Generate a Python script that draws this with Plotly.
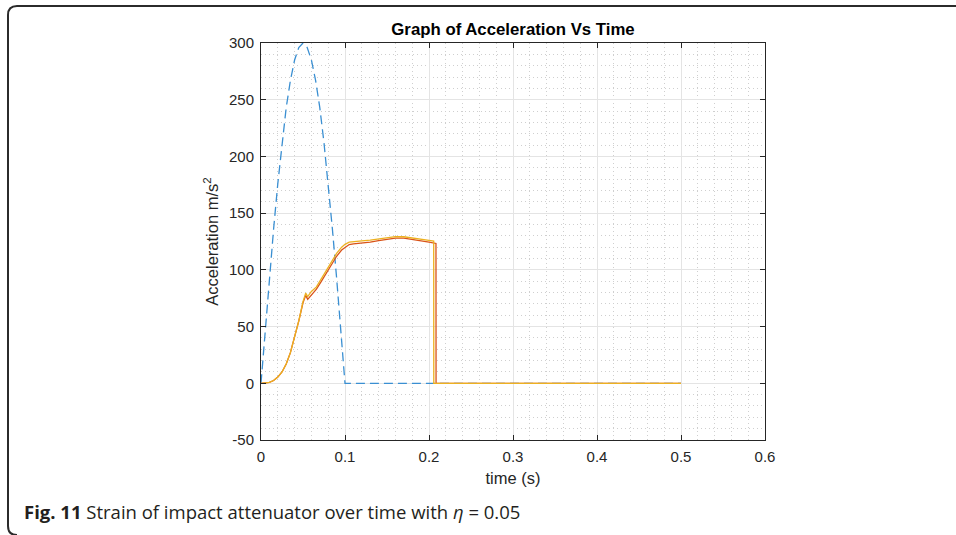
import plotly.graph_objects as go

# ---------------- data ----------------
t_input = [0, 0.005, 0.01, 0.015, 0.02, 0.025, 0.03, 0.035, 0.04, 0.045, 0.05,
           0.055, 0.06, 0.065, 0.07, 0.075, 0.08, 0.085, 0.09, 0.095, 0.1,
           0.2, 0.3, 0.4, 0.5]
a_input = [0, 47, 93, 136, 176, 212, 243, 267, 285, 296, 300,
           296, 285, 267, 243, 212, 176, 136, 93, 47, 0,
           0, 0, 0, 0]

t_resp1 = [0, 0.005, 0.01, 0.015, 0.02, 0.025, 0.03, 0.035, 0.04, 0.045, 0.05,
           0.0532, 0.0556, 0.06, 0.066, 0.072, 0.078, 0.084, 0.09, 0.096, 0.1,
           0.105, 0.11, 0.12, 0.13, 0.14, 0.15, 0.16, 0.17, 0.18, 0.19, 0.2,
           0.2083, 0.2084, 0.3, 0.4, 0.5]
a_resp1 = [0, 0.2, 0.8, 2.4, 5.5, 10, 17, 27, 40, 55, 71,
           77.5, 74, 78, 83, 90, 97.5, 105, 112, 117.5, 120,
           122.3, 123, 123.5, 124.5, 125.8, 127, 128, 128, 127, 125.8, 124.5,
           123.3, 0, 0, 0, 0]

t_resp2 = [0, 0.005, 0.01, 0.015, 0.02, 0.025, 0.03, 0.035, 0.04, 0.045, 0.05,
           0.0532, 0.0556, 0.06, 0.066, 0.072, 0.078, 0.084, 0.09, 0.096, 0.1,
           0.105, 0.11, 0.12, 0.13, 0.14, 0.15, 0.16, 0.17, 0.18, 0.19, 0.2,
           0.2056, 0.2057, 0.3, 0.4, 0.5]
a_resp2 = [0, 0.2, 0.8, 2.4, 5.5, 10, 17, 27, 40, 55, 72,
           79.5, 76.5, 81, 85, 92.5, 100, 107, 114.5, 120, 122.5,
           124.5, 125, 125.5, 126.3, 127.3, 128.5, 129.3, 129.2, 128.3, 127, 126,
           125.3, 0, 0, 0, 0]

x_ticks = [0, 0.1, 0.2, 0.3, 0.4, 0.5, 0.6]
x_ticklabels = ["0", "0.1", "0.2", "0.3", "0.4", "0.5", "0.6"]
y_ticks = [-50, 0, 50, 100, 150, 200, 250, 300]
y_ticklabels = ["-50", "0", "50", "100", "150", "200", "250", "300"]

# ---------------- figure ----------------
W, H = 956, 535
L, R, T, B = 261, 765, 43, 440  # plot area in pixels

fig = go.Figure()
fig.add_trace(go.Scatter(x=t_input, y=a_input, mode="lines",
                         line=dict(color="#3A8FD2", width=1.3, dash="9px,5px"),
                         showlegend=False))
fig.add_trace(go.Scatter(x=t_resp1, y=a_resp1, mode="lines",
                         line=dict(color="#D95319", width=1.3),
                         showlegend=False))
fig.add_trace(go.Scatter(x=t_resp2, y=a_resp2, mode="lines",
                         line=dict(color="#EDB120", width=1.3),
                         showlegend=False))

tick_font = dict(family="Liberation Sans, Arial, sans-serif", size=15, color="#262626")
label_font = dict(family="Liberation Sans, Arial, sans-serif", size=16.5, color="#262626")

common = dict(
    showline=True, linecolor="#262626", linewidth=1, mirror="ticks",
    ticks="inside", ticklen=5, tickcolor="#262626", tickwidth=1,
    showgrid=True, gridcolor="#e4e4e4", gridwidth=1,
    zeroline=False, tickfont=tick_font, ticklabelstandoff=3,
)

fig.update_xaxes(
    range=[0, 0.6], tickvals=x_ticks, ticktext=x_ticklabels, **common,
    minor=dict(dtick=0.02, showgrid=True, gridcolor="#cfcfcf", griddash="1px,3px",
               gridwidth=1, ticks=""),
    title=dict(text="time (s)", font=label_font, standoff=8),
)
fig.update_yaxes(
    range=[-50, 300], tickvals=y_ticks, ticktext=y_ticklabels, **common,
    minor=dict(dtick=10, showgrid=True, gridcolor="#cfcfcf", griddash="1px,3px",
               gridwidth=1, ticks=""),
    title=dict(text="Acceleration m/s<sup>2</sup>", font=label_font, standoff=6),
)

fig.update_layout(
    width=W, height=H,
    margin=dict(l=L, r=W - R, t=T, b=H - B, pad=0),
    paper_bgcolor="white", plot_bgcolor="white",
    title=dict(text="<b>Graph of Acceleration Vs Time</b>",
               font=dict(family="Liberation Sans, Arial, sans-serif", size=16.8, color="#000000"),
               x=(L + R) / 2 / W, xanchor="center", xref="container",
               y=1 - 29 / H, yanchor="middle", yref="container"),
)

# caption
fig.add_annotation(
    text="<b>Fig. 11</b> Strain of impact attenuator over time with <i>η</i> = 0.05",
    xref="paper", yref="paper",
    x=(22 - L) / (R - L), y=(B - 512) / (B - T),
    xanchor="left", yanchor="middle", showarrow=False,
    font=dict(family="Open Sans, sans-serif", size=18.5, color="#231f20"),
)

# outer frame (top line + left side with rounded corners)
def px(x):
    return (x - L) / (R - L)

def py(y):
    return (B - y) / (B - T)

path = (f"M {px(960)},{py(6)} L {px(17)},{py(6)} "
        f"Q {px(8)},{py(6)} {px(8)},{py(15)} "
        f"L {px(8)},{py(526)} Q {px(8)},{py(535)} {px(17)},{py(535)}")
fig.add_shape(type="path", path=path, xref="paper", yref="paper",
              line=dict(color="#2b2b2b", width=2))

fig.write_html("out.html", config={"displayModeBar": False},
               post_script="document.body.style.margin='0';")
